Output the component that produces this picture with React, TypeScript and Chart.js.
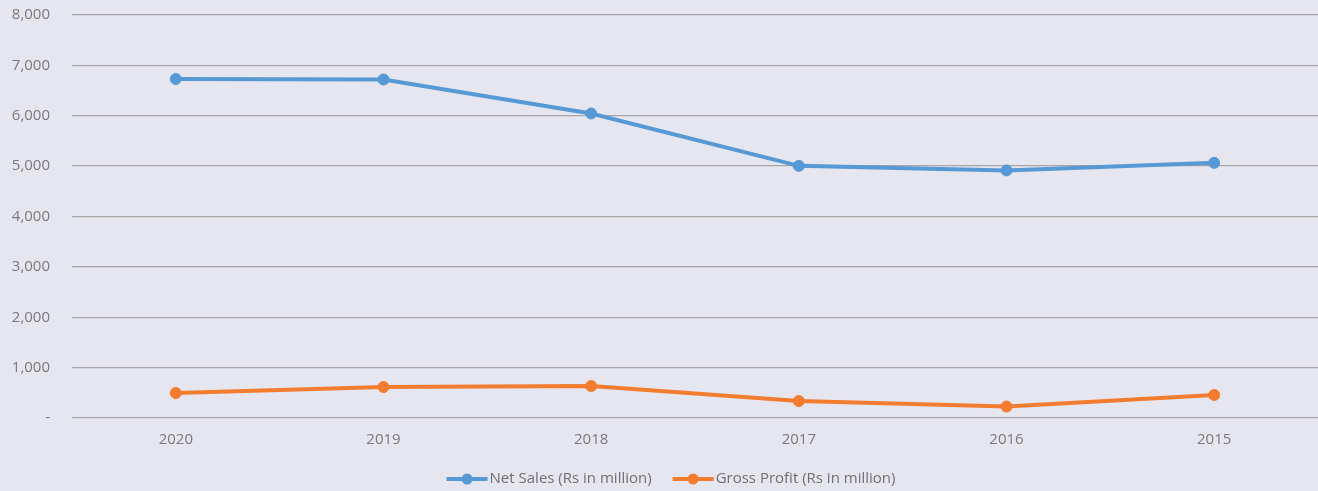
import React, { useEffect, useRef } from "react";
import { Chart, registerables } from "chart.js";

Chart.register(...registerables);

const years = ["2020", "2019", "2018", "2017", "2016", "2015"];
const netSales = [6730, 6720, 6045, 5005, 4915, 5065];
const grossProfit = [496, 615, 635, 337, 228, 457];
const seriesNames = ["Net Sales (Rs in million)", "Gross Profit (Rs in million)"];
const seriesColors = ["#5699D4", "#F37C2E"];

const FONT = "'Open Sans', 'Noto Sans', sans-serif";

const legendPlugin = {
  id: "lineLegend",
  afterDraw(chart: any) {
    const ctx = chart.ctx;
    ctx.save();
    ctx.font = `15px ${FONT}`;
    ctx.textBaseline = "middle";
    const symW = 41;
    const gapAfterSym = 2;
    const gapBetween = 21;
    const widths = seriesNames.map((n) => symW + gapAfterSym + ctx.measureText(n).width);
    const total = widths.reduce((a, b) => a + b, 0) + gapBetween * (seriesNames.length - 1);
    let x = chart.width / 2 - total / 2 + 12;
    const y = 479;
    seriesNames.forEach((name, i) => {
      ctx.strokeStyle = seriesColors[i];
      ctx.lineWidth = 4;
      ctx.beginPath();
      ctx.moveTo(x, y);
      ctx.lineTo(x + symW, y);
      ctx.stroke();
      ctx.fillStyle = seriesColors[i];
      ctx.beginPath();
      ctx.arc(x + symW / 2, y, 5.5, 0, Math.PI * 2);
      ctx.fill();
      ctx.fillStyle = "#707070";
      ctx.textAlign = "left";
      ctx.fillText(name, x + symW + gapAfterSym, y);
      x += widths[i] + gapBetween;
    });
    ctx.restore();
  },
};

const bgPlugin = {
  id: "bg",
  beforeDraw(chart: any) {
    const ctx = chart.ctx;
    ctx.save();
    ctx.fillStyle = "#E6E6F0";
    ctx.fillRect(0, 0, chart.width, chart.height);
    ctx.restore();
  },
};

export default function App() {
  const ref = useRef<HTMLCanvasElement>(null);
  useEffect(() => {
    document.body.style.margin = "0";
    const chart = new Chart(ref.current!, {
      type: "line",
      data: {
        labels: years,
        datasets: [
          {
            label: seriesNames[0],
            data: netSales,
            borderColor: seriesColors[0],
            backgroundColor: seriesColors[0],
            borderWidth: 4,
            pointRadius: 5.5,
            pointBorderWidth: 1,
            pointHoverRadius: 5.5,
            tension: 0,
          },
          {
            label: seriesNames[1],
            data: grossProfit,
            borderColor: seriesColors[1],
            backgroundColor: seriesColors[1],
            borderWidth: 4,
            pointRadius: 5.5,
            pointBorderWidth: 1,
            pointHoverRadius: 5.5,
            tension: 0,
          },
        ],
      },
      options: {
        animation: false,
        responsive: false,
        maintainAspectRatio: false,
        layout: { autoPadding: false, padding: { left: 12, right: 0, top: 15, bottom: 39 } },
        plugins: {
          legend: { display: false },
          tooltip: { enabled: false },
        },
        scales: {
          x: {
            offset: true,
            grid: { display: false, drawTicks: false },
            border: { display: false },
            ticks: { color: "#7A7A7A", font: { family: FONT, size: 15 }, padding: 13 },
            afterFit: (s: any) => {
              s.height = 34;
              s.paddingLeft = 0;
              s.paddingRight = 0;
            },
          },
          y: {
            min: 0,
            max: 8000,
            border: { display: false },
            grid: { color: "#A6A6A6", lineWidth: 1.3, drawTicks: false },
            ticks: {
              stepSize: 1000,
              color: "#7A7A7A",
              font: { family: FONT, size: 15 },
              padding: 22,
              callback: (v: any) => (Number(v) === 0 ? "-" : Number(v).toLocaleString("en-US")),
            },
            afterFit: (s: any) => {
              s.width = 60;
              s.paddingTop = 0;
              s.paddingBottom = 0;
            },
          },
        },
      },
      plugins: [bgPlugin, legendPlugin],
    });
    return () => chart.destroy();
  }, []);
  return (
    <div style={{ width: 1318, height: 491 }}>
      <canvas ref={ref} width={1318} height={491} style={{ display: "block" }} />
    </div>
  );
}
